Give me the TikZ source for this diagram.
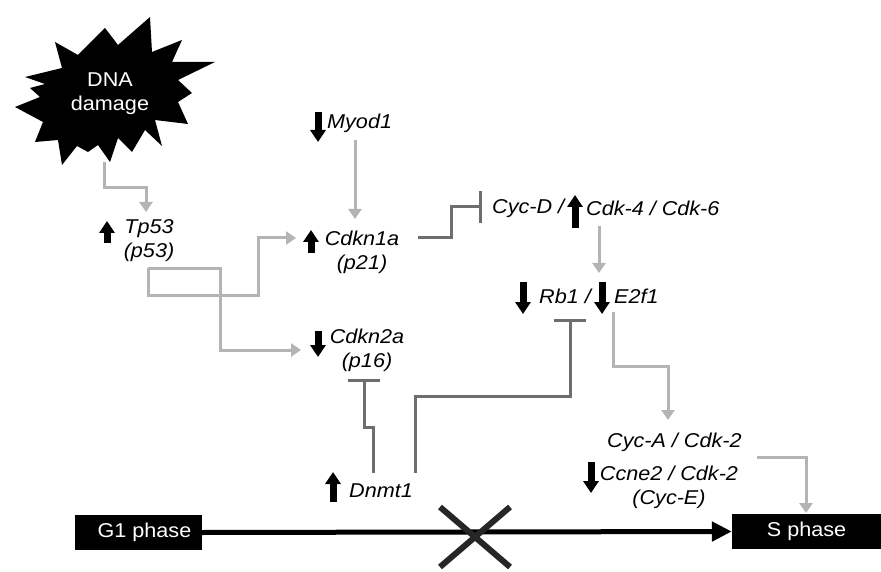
\documentclass[tikz,border=0pt]{standalone}
\usepackage{fontspec}
\setmainfont{Liberation Sans}[FakeStretch=1.08]
\usetikzlibrary{arrows.meta}
\definecolor{actgray}{HTML}{B4B4B4}
\definecolor{inhgray}{HTML}{6E6E6E}
\begin{document}
\begin{tikzpicture}[x=1pt,y=-1pt,
  gene/.style={font=\fontsize{20}{24}\selectfont\itshape, inner sep=0pt, align=center},
  act/.style={draw=actgray, line width=3pt, line join=miter, -{Triangle[width=13pt,length=10pt]}},
  inh/.style={draw=inhgray, line width=3pt, line join=miter, -{Bar[width=32pt]}},
  fat/.style={draw=black, line width=7pt, -{Triangle[width=15pt,length=12pt]}},
  phasebox/.style={fill=black, text=white, font=\fontsize{20}{24}\selectfont, inner sep=0pt, minimum height=35pt},
  cross/.style={draw=black!85, line width=6pt}
]
\useasboundingbox (0,0) rectangle (881,572);
% starburst
\fill[black] (25,77) -- (62,68) -- (55,42) -- (78,55) -- (105,28) -- (118,45) -- (150,17) -- (152,52)
  -- (182,40) -- (172,62) -- (215,62) -- (178,80) -- (192,93) -- (178,102) -- (188,124) -- (155,120)
  -- (162,146) -- (145,130) -- (132,152) -- (118,138) -- (110,162) -- (98,145) -- (88,152) -- (77,146)
  -- (62,165) -- (58,140) -- (35,142) -- (43,122) -- (15,107) -- (40,97) -- (30,88) -- (45,84) -- cycle;
\node[font=\fontsize{20}{24}\selectfont, text=white, align=center, inner sep=0pt] (dna) at (110,94) {DNA\\damage};

% gene labels
\node[gene] (tp53) at (149,240.5) {Tp53\\(p53)};
\node[gene, anchor=west] (myod) at (327,123) {Myod1};
\node[gene] (cdkn1a) at (362,252.5) {Cdkn1a\\(p21)};
\node[gene, anchor=west] (cycd) at (492,208) {Cyc-D /};
\node[gene, anchor=west] (cdk46) at (586,208) {Cdk-4 / Cdk-6};
\node[gene, anchor=west] (rb1) at (539,296) {Rb1 /};
\node[gene, anchor=west] (e2f1) at (614,296) {E2f1};
\node[gene] (cdkn2a) at (367,350.5) {Cdkn2a\\(p16)};
\node[gene, anchor=west] (dnmt) at (349,491) {Dnmt1};
\node[gene, anchor=west] (cyca) at (607,442) {Cyc-A / Cdk-2};
\node[gene] (ccne) at (669,487.5) {Ccne2 / Cdk-2\\(Cyc-E)};

% phase boxes
\node[phasebox, minimum width=127pt] (g1) at (138.5,532.5) {\hspace*{12pt}G1 phase};
\node[phasebox, minimum width=149pt] (sph) at (806.5,531.5) {S phase};

% fat up/down arrows
\draw[fat] (107,243) -- (107,221);
\draw[fat] (318,112) -- (318,142);
\draw[fat] (311,253) -- (311,230);
\draw[fat] (575,228) -- (575,195);
\draw[fat] (523,282) -- (523,314);
\draw[fat] (602,282) -- (602,314);
\draw[fat] (318,331) -- (318,357);
\draw[fat] (333,502) -- (333,472);
\draw[fat] (591,462) -- (591,493);

% anchor coordinates of connectors
\coordinate (dnaout) at (104,162);
\coordinate (tp53in) at (146,212);
\coordinate (tp53out) at (148,268);
\coordinate (cdkn1ain) at (296,238);
\coordinate (cdkn2ain) at (301,350);
\coordinate (myodout) at (355,140);
\coordinate (cdkn1ain2) at (355,219);
\coordinate (cdkn1aout) at (418,238);
\coordinate (cycdin) at (482,207);
\coordinate (cdkout) at (599,226);
\coordinate (rbin) at (599,273);
\coordinate (e2fout) at (613,312);
\coordinate (cycain) at (668,420);
\coordinate (cycaout) at (757,457);
\coordinate (sphin) at (806,513);
\coordinate (dnmtoutA) at (373,473);
\coordinate (cdkn2abar) at (364,379);
\coordinate (dnmtoutB) at (415,473);
\coordinate (rbbar) at (570,319);

% activation connectors
\draw[act] (dnaout) -- (104,188) -- (146,188) -- (tp53in);
\draw[act] (tp53out) -- (148,295) -- (258,295) -- (258,238) -- (cdkn1ain);
\draw[act] (tp53out) -- (220,268) -- (220,350) -- (cdkn2ain);
\draw[act] (myodout) -- (cdkn1ain2);
\draw[act] (cdkout) -- (rbin);
\draw[act] (e2fout) -- (613,366) -- (668,366) -- (cycain);
\draw[act] (cycaout) -- (806,457) -- (sphin);

% inhibition connectors
\draw[inh] (cdkn1aout) -- (451,238) -- (451,207) -- (cycdin);
\draw[inh] (dnmtoutB) -- (415,396) -- (570,396) -- (rbbar);
\draw[inh] (dnmtoutA) -- (373,427) -- (364,427) -- (cdkn2abar);

% cell cycle arrow and block
\draw[line width=5pt, -{Triangle[width=19pt,length=20pt]}] (g1.east) -- (sph.west);
\draw[cross] (440,507) -- (510,567);
\draw[cross] (510,507) -- (440,567);
\end{tikzpicture}
\end{document}
